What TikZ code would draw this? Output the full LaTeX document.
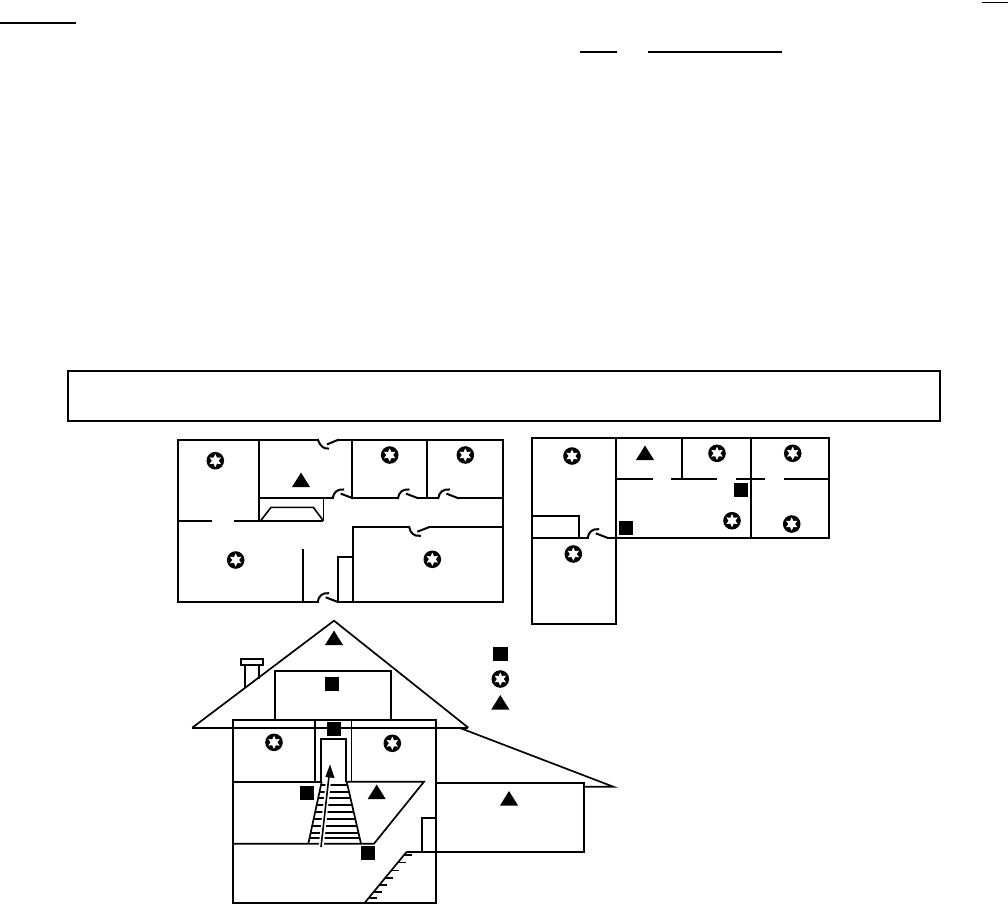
\documentclass[tikz,border=0pt]{standalone}
\tikzset{
  plan/.style={line width=2pt,line cap=rect,line join=miter},
  house/.style={line width=1.7pt,line cap=butt,line join=miter},
  thinwall/.style={line width=1.6pt},
  pics/smokemark/.style={code={
    \fill[black] (0,0) circle (8.8);
    \fill[white] (90:6.6) -- (120:3.4) -- (150:6.6) -- (180:3.4) -- (210:6.6) -- (240:3.4) -- (270:6.6) -- (300:3.4) -- (330:6.6) -- (0:3.4) -- (30:6.6) -- (60:3.4) -- cycle;
  }},
  pics/squaremark/.style={code={\fill[black] (-7.2,-7) rectangle (7.2,7);}},
  pics/trianglemark/.style={code={\fill[black] (0,-14.5) -- (9,0) -- (-9,0) -- cycle;}}
}
\newcommand{\doorup}[2]{(#1,#2) .. controls (#1+1,#2-6) and (#1+5,#2-9) .. (#1+10.5,#2-8.5) (#1+9,#2-4) -- (#1+19.5,#2)}
\newcommand{\doordown}[2]{(#1,#2) .. controls (#1+1,#2+6) and (#1+5,#2+9) .. (#1+10.5,#2+8.5) (#1+9,#2+4) -- (#1+19.5,#2)}
\begin{document}
\begin{tikzpicture}[x=1pt,y=-1pt]
\useasboundingbox (0,0) rectangle (1008,905);
\fill[white] (0,0) rectangle (1008,905);
% header rules
\draw[line width=1.7pt] (0,23) -- (76,23);
\draw[line width=1.7pt] (982,2.5) -- (1008,2.5);
\draw[line width=1.7pt] (580,52) -- (617,52);
\draw[line width=1.7pt] (648,52) -- (782,52);
% empty banner
\draw[line width=1.7pt] (68,371) rectangle (940,421);
% ---------- floor plan 1
\draw[plan] (318,440) -- (177.7,440) -- (177.7,601.7) -- (317.7,601.7);
\draw[plan] (337.7,440) -- (503.3,440) -- (503.3,601.7) -- (337.7,601.7);
\draw[plan] (318,440) .. controls (320,446) and (324,449) .. (328,448.5) (328,444) -- (337.7,440);
\draw[plan] (259,440) -- (259,520.7);
\draw[plan] (351.7,440) -- (351.7,498);
\draw[plan] (426.7,440) -- (426.7,498);
\draw[plan] (259,498) -- (332.7,498);
\draw[plan] \doorup{332.7}{498};
\draw[plan] (351.7,498) -- (398,498);
\draw[plan] \doorup{398}{498};
\draw[plan] (418,498) -- (438.3,498);
\draw[plan] \doorup{438.3}{498};
\draw[plan] (458.7,498) -- (503.3,498);
\draw[thinwall] (323.3,498) -- (323.3,520.7);
\draw[thinwall] (177.7,520.7) -- (211.7,520.7);
\draw[thinwall] (234,520.7) -- (323.3,520.7);
\draw[thinwall] (260.7,520.7) -- (271,507.3) -- (313.3,507.3) -- (323.3,520.7);
\draw[plan] (353.3,601.7) -- (353.3,527.3) -- (409.3,527.3);
\draw[plan] \doordown{409.3}{527.3};
\draw[plan] (428.8,527.3) -- (501.7,527.3);
\draw[plan] (337.7,601.7) -- (337.7,556.7) -- (353.3,556.7);
\draw[plan] (302.7,550) -- (302.7,601.7);
\draw[plan] \doorup{317.7}{601.7};
\pic at (215.3,460.7) {smokemark};
\pic at (389.7,455) {smokemark};
\pic at (465.3,455) {smokemark};
\pic at (235.7,560) {smokemark};
\pic at (432.3,559.3) {smokemark};
\pic at (301,487) {trianglemark};
% ---------- floor plan 2
\draw[plan] (531.7,537.7) -- (531.7,438.3) -- (829,438.3) -- (829,537.7) -- (608.3,537.7);
\draw[plan] (531.7,537.7) -- (587.7,537.7);
\draw[plan] \doorup{587.7}{537.7};
\draw[plan] (616,438.3) -- (616,623.7) -- (531.7,623.7) -- (531.7,537.7);
\draw[plan] (531.7,516) -- (579.3,516) -- (579.3,537.7);
\draw[plan] (682,438.3) -- (682,478.7);
\draw[plan] (751,438.3) -- (751,537.7);
\draw[thinwall] (616,478.7) -- (653,478.7);
\draw[thinwall] (671,478.7) -- (717,478.7);
\draw[thinwall] (736,478.7) -- (765,478.7);
\draw[thinwall] (784,478.7) -- (829,478.7);
\pic at (740.7,489.5) {squaremark};
\pic at (625.7,528.3) {squaremark};
\pic at (572,456) {smokemark};
\pic at (717,453.3) {smokemark};
\pic at (792.7,453.3) {smokemark};
\pic at (732,520.7) {smokemark};
\pic at (791.7,524) {smokemark};
\pic at (573.3,554) {smokemark};
\pic at (645,460) {trianglemark};
% ---------- house section
\draw[house] (192.3,727.7) -- (334,620.7) -- (468.3,727.7);
\draw[house] (192.3,727.7) -- (468.3,727.7);
\draw[house] (460,728) -- (613.3,786.7) -- (584,786.7);
\draw[house] (240.7,658.7) rectangle (262.7,665.3);
\draw[house] (244.7,665.3) -- (244.7,688);
\draw[house] (258.7,665.3) -- (258.7,679.3);
\draw[house] (274.7,719.7) -- (274.7,671) -- (391,671) -- (391,719.7);
\draw[plan,line width=1.8pt] (233,719.7) rectangle (435.7,903.3);
\draw[house] (315,719.7) -- (315,781.7);
\draw[house] (351.5,719.7) -- (351.5,781.7);
\draw[house] (321,781.7) -- (321,739) -- (346,739) -- (346,781.7);
\draw[house] (233,781.7) -- (321.7,781.7);
\draw[house] (346.7,781.7) -- (424,781.7) -- (374,843.7) -- (233,843.7);
\draw[house] (321.7,781.7) -- (308.3,843.7);
\draw[house] (346.7,781.7) -- (361,843.7);
\foreach \ry/\xa/\xb in {785/321/347.5,791.7/319.5/349,798.3/318/350.5,805/316.5/352,811.7/315/353.7,819/313.5/355.3,826/312/357,832.7/310.5/358.5,838/309.5/359.7}
  \draw[line width=1.7pt] (\xa,\ry) -- (\xb,\ry);
\draw[white,line width=5pt] (321,848) -- (329,776);
\draw[line width=1.6pt] (321,847) -- (329,776);
\fill[black] (330,764.5) -- (334.5,778) -- (325.3,777) -- cycle;
\draw[house] (421.7,851.7) -- (421.7,818.3) -- (435.7,818.3);
\draw[house] (436,783.3) rectangle (584,851.7);
\draw[house] (406.7,851.7) -- (435.7,851.7);
\draw[house] (406.7,851.7) -- (364.3,903.3);
\foreach \ty in {855,862.7,870.5,878,885,892,898}
  \draw[line width=1.4pt] ({406.7-(\ty-851.7)*0.822},\ty) -- ({406.7-(\ty-851.7)*0.822+8},\ty);
\pic at (334,645) {trianglemark};
\pic at (332,684) {squaremark};
\pic at (334,729.2) {squaremark};
\pic at (274,742.3) {smokemark};
\pic at (392.3,743.3) {smokemark};
\pic at (306.8,792.8) {squaremark};
\pic at (368,853) {squaremark};
\pic at (376.7,799) {trianglemark};
\pic at (509,805.5) {trianglemark};
% legend
\pic at (500.3,654) {squaremark};
\pic at (500.3,679) {smokemark};
\pic at (500.3,709.5) {trianglemark};
\end{tikzpicture}
\end{document}
